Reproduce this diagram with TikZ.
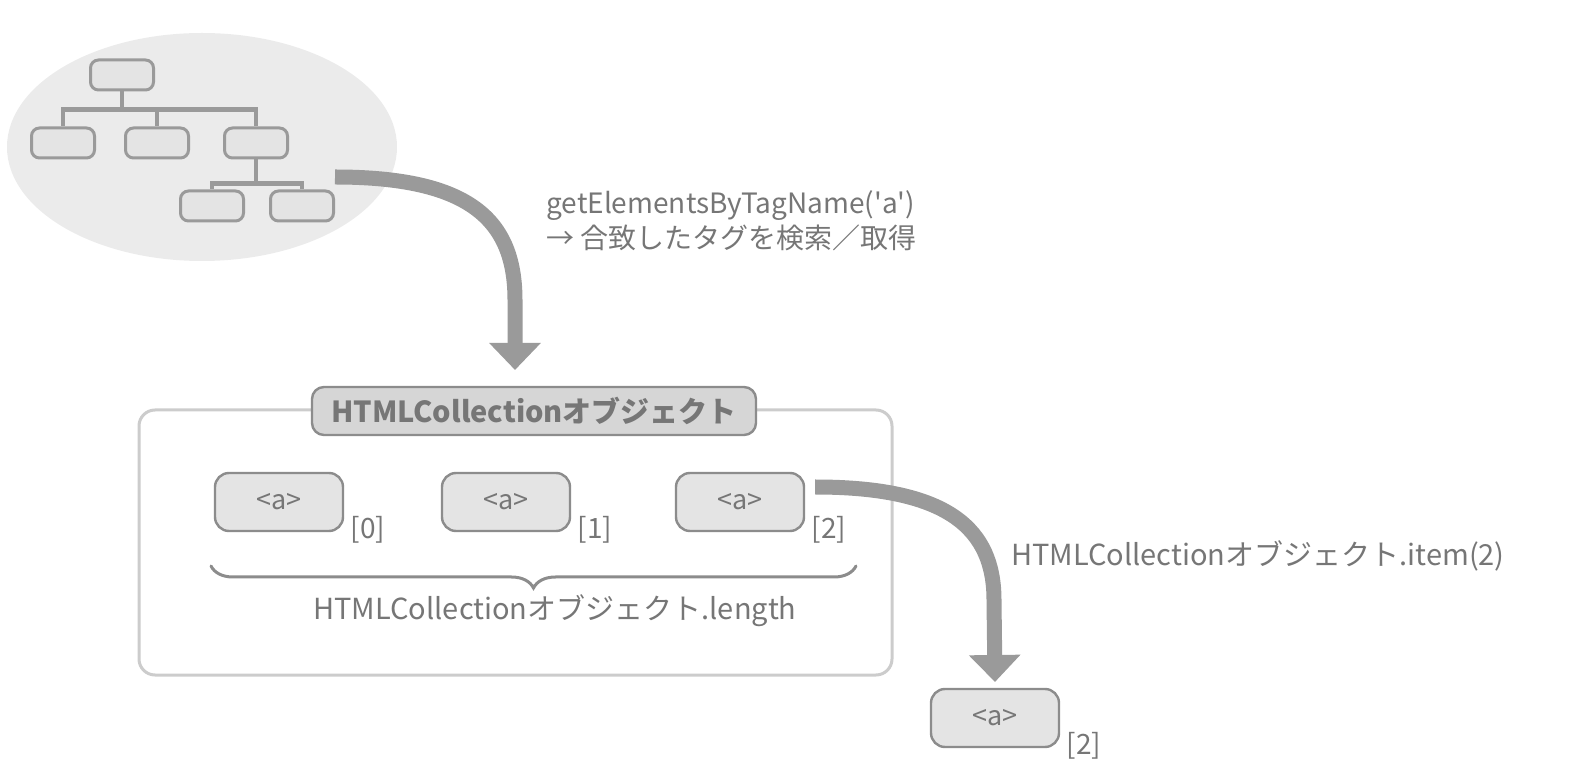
\documentclass[tikz,border=0pt]{standalone}
\usepackage{fontspec}
\setmainfont{Noto Sans CJK JP}
\newfontfamily\plainjp{Noto Sans CJK JP}
\usetikzlibrary{arrows.meta,shapes.geometric,decorations.pathreplacing,positioning}
\definecolor{domfill}{HTML}{EBEBEB}
\definecolor{boxfill}{HTML}{E4E4E4}
\definecolor{linegray}{HTML}{9A9A9A}
\definecolor{edgegray}{HTML}{8C8C8C}
\definecolor{framegray}{HTML}{CCCCCC}
\definecolor{titlefill}{HTML}{D6D6D6}
\definecolor{textgray}{HTML}{767676}
\begin{document}
\begin{tikzpicture}[
        x=0.5pt, y=-0.5pt,
        leaf/.style={draw=linegray, fill=boxfill, line width=1.5pt, rounded corners=4pt,
            minimum width=31.5pt, minimum height=15pt, inner sep=0pt},
        link/.style={draw=linegray, line width=2.3pt},
        tagbox/.style={draw=edgegray, fill=boxfill, line width=1.2pt, rounded corners=7pt,
            minimum width=64pt, minimum height=29pt, inner sep=0pt, text=textgray,
            font=\fontsize{13.5}{15}\selectfont},
        idx/.style={anchor=west, text=textgray, inner sep=0pt, font=\fontsize{14}{16}\selectfont},
        label/.style={text=textgray, inner sep=0pt, font=\fontsize{14}{17.5}\selectfont},
        bigarrow/.style={draw=linegray, line width=7.5pt, -{Triangle[width=25pt,length=13.5pt]}},
    ]
    \useasboundingbox (0,0) rectangle (1586,780);
    % DOM tree
    \node[ellipse, fill=domfill, minimum width=195pt, minimum height=114pt] (dom) at (202,147) {};
    \node[leaf] (root) at (122,75) {};
    \node[leaf] (c1) at (63,143) {};
    \node[leaf] (c2) at (157,143) {};
    \node[leaf] (c3) at (256,143) {};
    \node[leaf] (c4) at (212,206) {};
    \node[leaf] (c5) at (302,206) {};
    \draw[link] (root.south) -- ++(0,18) -| (c1.north);
    \draw[link] (root.south) -- ++(0,18) -| (c2.north);
    \draw[link] (root.south) -- ++(0,18) -| (c3.north);
    \draw[link] (c3.south) -- ++(0,24) -| (c4.north);
    \draw[link] (c3.south) -- ++(0,24) -| (c5.north);

    \node[label, anchor=north west, align=left] (search) at (546,190)
        {getElementsByTagName({\plainjp 'a'})\\→ 合致したタグを検索／取得};

    % collection
    \node[draw=framegray, fill=white, line width=1.5pt, rounded corners=8pt,
        minimum width=376.5pt, minimum height=132.5pt] (coll) at (515.5,542.5) {};
    \node[draw=edgegray, fill=titlefill, line width=1.2pt, rounded corners=6pt,
        minimum width=222pt, minimum height=24pt, inner sep=0pt, text=textgray,
        font=\bfseries\fontsize{14.5}{17}\selectfont] (title) at (534,411) {HTMLCollectionオブジェクト};
    \node[tagbox] (a0) at (279,502) {<a>};
    \node[tagbox] (a1) at (506,502) {<a>};
    \node[tagbox] (a2) at (740,502) {<a>};
    \node[idx] (i0) at ([xshift=3pt,yshift=1pt]a0.south east) {[0]};
    \node[idx] (i1) at ([xshift=3pt,yshift=1pt]a1.south east) {[1]};
    \node[idx] (i2) at ([xshift=3pt,yshift=1pt]a2.south east) {[2]};
    \coordinate (bl) at (211,566);
    \coordinate (br) at (856,566);
    \draw[edgegray, line width=1.5pt, line cap=round, decorate,
        decoration={brace, mirror, amplitude=11pt}] (bl) -- (br);
    \node[label, font=\fontsize{14.5}{17}\selectfont] (len) at (555,611) {HTMLCollectionオブジェクト.length};

    % result
    \node[tagbox] (res) at (995,718) {<a>};
    \node[idx] (ir) at ([xshift=3pt,yshift=1pt]res.south east) {[2]};
    \node[label, anchor=west, font=\fontsize{14.5}{17}\selectfont] (item) at (1011,556) {HTMLCollectionオブジェクト.item(2)};

    \coordinate (from1) at (335,177);
    \coordinate (to1) at (515,370);
    \draw[bigarrow] (from1) .. controls (470,177) and (515,220) .. (515,300) -- (to1);
    \coordinate (from2) at (a2.east |- 0,487);
    \coordinate (to2) at (res.north |- 0,682);
    \draw[bigarrow] ([xshift=5pt]from2) .. controls (950,487) and (994,530) .. (994,600) -- (to2);
\end{tikzpicture}
\end{document}
